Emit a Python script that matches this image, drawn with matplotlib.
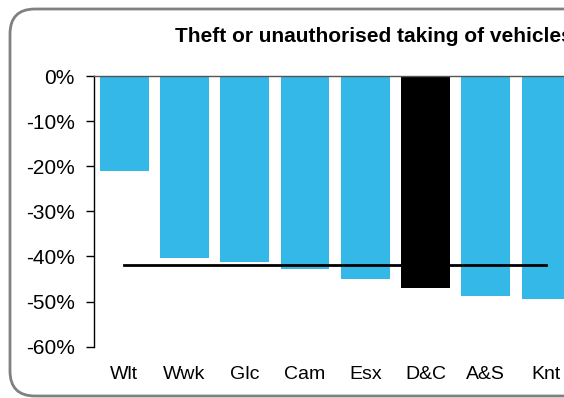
import matplotlib.pyplot as plt
from matplotlib.patches import FancyBboxPatch
from matplotlib.ticker import FuncFormatter

plt.rcParams['font.family'] = ['Liberation Sans', 'DejaVu Sans']

# forces, % change
forces = ['Wlt', 'Wwk', 'Glc', 'Cam', 'Esx', 'D&C', 'A&S', 'Knt']
change = [-21.0, -40.3, -41.2, -42.8, -45.0, -46.9, -48.7, -49.4]
highlight = 'D&C'
group_avg = -41.8
title = 'Theft or unauthorised taking of vehicles'

blue = '#33B8E8'
colors = ['black' if f == highlight else blue for f in forces]

fig = plt.figure(figsize=(5.64, 3.98), dpi=100)
ax = fig.add_axes([0.1667, 0.129, 0.855, 0.680])

x = range(len(forces))
ax.bar(x, change, width=0.81, color=colors, zorder=2)
ax.plot([0, len(forces) - 1], [group_avg, group_avg], color='black', lw=2, zorder=3)

ax.set_xlim(-0.5, len(forces) - 0.5)
ax.set_ylim(-60, 0)
ax.set_yticks(range(-60, 1, 10))
ax.yaxis.set_major_formatter(FuncFormatter(lambda v, p: f'{v:.0f}%'))
ax.set_xticks(list(x))
ax.set_xticklabels(forces)

ax.spines['right'].set_visible(False)
ax.spines['bottom'].set_visible(False)
ax.spines['top'].set_color('#555555')
ax.spines['top'].set_linewidth(1)
ax.spines['left'].set_linewidth(1)
ax.tick_params(axis='x', length=0, pad=14, labelsize=14)
ax.tick_params(axis='y', length=6, width=1, direction='out', pad=8, labelsize=15)

fig.text(175 / 564, 1 - 37 / 398, title, fontsize=15, fontweight='bold',
         ha='left', va='center')

# rounded frame, runs off the right edge like the original crop
frame = FancyBboxPatch((10, 2), 700, 387, boxstyle='round,pad=0,rounding_size=25',
                       transform=None, facecolor='none', edgecolor='#808080',
                       lw=2, clip_on=False)
fig.patches.append(frame)

fig.savefig('out.png', dpi=100)
